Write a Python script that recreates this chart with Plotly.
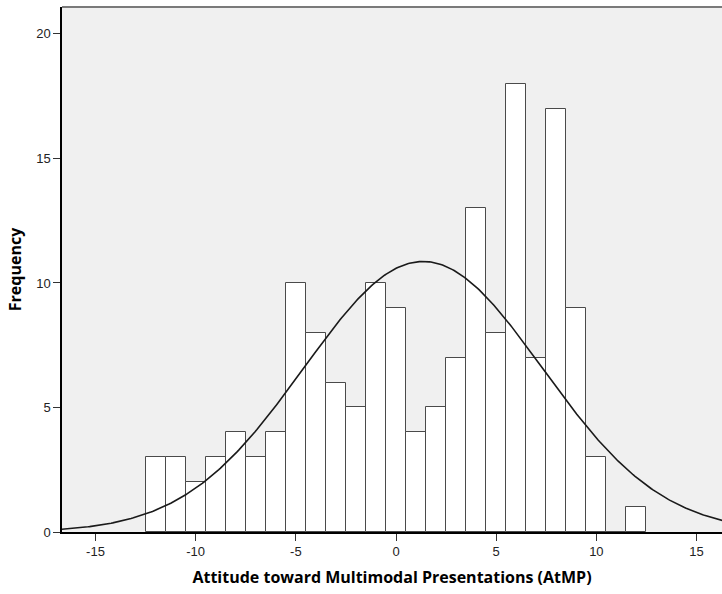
import numpy as np
import plotly.graph_objects as go

bin_centers = list(range(-12, 13))
frequencies = [3, 3, 2, 3, 4, 3, 4, 10, 8, 6, 5, 10, 9, 4, 5, 7, 13, 8, 18, 7, 17, 9, 3, 0, 1]
curve_mean = 1.35
curve_sd = 5.95
x_ticks = [-15, -10, -5, 0, 5, 10, 15]
x_tick_labels = ["-15", "-10", "-5", "0", "5", "10", "15"]
y_ticks = [0, 5, 10, 15, 20]

n_total = sum(frequencies)
bin_width = 1.0
xc = np.linspace(-16.7, 16.3, 400)
yc = n_total * bin_width / (curve_sd * np.sqrt(2 * np.pi)) * np.exp(-0.5 * ((xc - curve_mean) / curve_sd) ** 2)

fig = go.Figure()
fig.add_trace(go.Bar(
    x=bin_centers, y=frequencies, width=1.0,
    marker=dict(color="white", line=dict(color="#4a4a4a", width=1)),
    showlegend=False, hoverinfo="x+y",
))
fig.add_trace(go.Scatter(
    x=xc, y=yc, mode="lines", line=dict(color="#1a1a1a", width=1.6),
    showlegend=False, hoverinfo="skip",
))

title_font = dict(family="Open Sans, sans-serif", size=16, color="black")

fig.update_layout(
    width=722, height=594,
    margin=dict(l=62, r=0, t=7, b=62),
    paper_bgcolor="white", plot_bgcolor="#f0f0f0",
    font=dict(family="Liberation Sans, Arial, sans-serif", size=13, color="#222"),
    bargap=0,
    shapes=[dict(type="line", xref="paper", yref="paper", x0=0, x1=1, y0=1, y1=1,
                 line=dict(color="#7a7a7a", width=2))],
)
fig.update_xaxes(
    range=[-16.67, 16.27], tickvals=x_ticks, ticktext=x_tick_labels,
    ticks="outside", ticklen=7, tickcolor="#333",
    showgrid=False, zeroline=False, showline=True, linecolor="black", linewidth=1.5,
    title=dict(text="<b>Attitude toward Multimodal Presentations (AtMP)</b>",
               font=title_font, standoff=13),
)
fig.update_yaxes(
    range=[0, 21.08], tickvals=y_ticks, ticks="outside", ticklen=7, tickcolor="#333",
    showgrid=False, zeroline=False, showline=True, linecolor="black", linewidth=1.5,
    title=dict(text="<b>Frequency</b>", font=title_font, standoff=11),
)

fig.write_html("out.html")
